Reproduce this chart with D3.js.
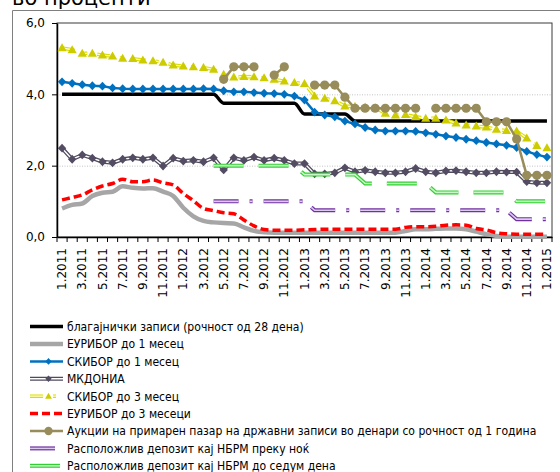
<!DOCTYPE html>
<html><head><meta charset="utf-8">
<script src="https://cdn.jsdelivr.net/npm/d3@7"></script>
<style>body{margin:0;background:#fff} svg{display:block}</style>
</head><body><svg id="c" width="560" height="472"></svg>
<script>
const categories = ["1.2011","2.2011","3.2011","4.2011","5.2011","6.2011","7.2011","8.2011","9.2011","10.2011","11.2011","12.2011",
"1.2012","2.2012","3.2012","4.2012","5.2012","6.2012","7.2012","8.2012","9.2012","10.2012","11.2012","12.2012",
"1.2013","2.2013","3.2013","4.2013","5.2013","6.2013","7.2013","8.2013","9.2013","10.2013","11.2013","12.2013",
"1.2014","2.2014","3.2014","4.2014","5.2014","6.2014","7.2014","8.2014","9.2014","10.2014","11.2014","12.2014","1.2015"];
const yTickValues = [0, 2, 4, 6];
const yTickLabels = ["0,0", "2,0", "4,0", "6,0"];
const titleText = "во проценти";
const seriesNames = [
 "благајнички записи (рочност од 28 дена)",
 "ЕУРИБОР до 1 месец",
 "СКИБОР до 1 месец",
 "МКДОНИА",
 "СКИБОР до 3 месец",
 "ЕУРИБОР до 3 месеци",
 "Аукции на примарен пазар на државни записи во денари со рочност од 1 година",
 "Расположлив депозит кај НБРМ преку ноќ",
 "Расположлив депозит кај НБРМ до седум дена"
];
const blagajnicki = [4.0,4.0,4.0,4.0,4.0,4.0,4.0,4.0,4.0,4.0,4.0,4.0,4.0,4.0,4.0,4.0,
 3.75,3.75,3.75,3.75,3.75,3.75,3.75,3.75,
 3.45,3.45,3.45,3.45,3.45,
 3.25,3.25,3.25,3.25,3.25,3.25,3.25,3.25,3.25,3.25,3.25,3.25,3.25,3.25,3.25,3.25,3.25,3.25,3.25,3.25];
const euribor1m = [0.80,0.90,0.94,1.15,1.24,1.27,1.42,1.38,1.36,1.37,1.27,1.15,0.82,0.58,0.45,0.41,0.39,0.38,0.27,0.17,0.13,
 0.12,0.12,0.12,0.12,0.12,0.12,0.12,0.12,0.12,0.12,0.12,0.12,0.12,0.17,0.22,0.22,0.23,0.24,0.24,0.22,0.15,0.08,0.03,
 0.01,0.01,0.01,0.01,0.01];
const skibor1m = [4.35,4.31,4.27,4.24,4.23,4.18,4.16,4.15,4.15,4.15,4.15,4.15,4.15,4.15,4.16,4.15,4.10,4.07,4.07,4.05,4.03,4.02,4.00,3.95,
 3.84,3.50,3.42,3.37,3.25,3.17,3.07,3.00,2.97,2.97,2.97,2.96,2.92,2.88,2.83,2.79,2.74,2.70,2.65,2.61,2.57,2.51,2.40,2.31,2.24];
const mkdonia = [2.49,2.18,2.30,2.21,2.11,2.08,2.18,2.22,2.18,2.22,1.99,2.21,2.13,2.15,2.11,2.22,1.88,2.22,2.15,2.24,2.15,2.21,2.15,2.06,
 2.06,1.77,1.77,1.80,1.94,1.83,1.87,1.83,1.80,1.80,1.83,1.92,1.83,1.80,1.85,1.86,1.83,1.80,1.80,1.83,1.82,1.82,1.55,1.52,1.52];
const skibor3m = [5.30,5.25,5.15,5.15,5.10,5.07,5.01,5.00,4.96,4.94,4.90,4.82,4.79,4.77,4.75,4.70,4.56,4.48,4.50,4.49,4.46,4.42,4.37,4.33,
 4.30,3.95,3.89,3.82,3.67,3.66,3.64,3.62,3.47,3.42,3.43,3.37,3.33,3.33,3.28,3.19,3.14,3.11,3.08,3.02,2.98,2.97,2.77,2.56,2.50];
const euribor3m = [1.04,1.11,1.18,1.32,1.43,1.50,1.62,1.55,1.55,1.60,1.52,1.46,1.22,1.02,0.80,0.74,0.68,0.65,0.48,0.31,0.21,0.19,0.19,0.19,
 0.20,0.21,0.22,0.22,0.22,0.22,0.22,0.22,0.22,0.22,0.27,0.29,0.29,0.30,0.33,0.34,0.33,0.24,0.20,0.12,0.09,0.08,0.08,0.08,0.08];
const aukcii = [null,null,null,null,null,null,null,null,null,null,null,null,null,null,null,null,
 4.42,4.77,4.77,4.77,null,4.54,4.77,null,null,4.26,4.26,4.26,3.92,3.61,3.61,3.61,3.61,3.61,3.61,3.61,null,3.61,3.61,3.61,3.61,3.61,
 3.23,3.23,3.23,2.75,1.73,1.73,1.73];
const depOvernight = [null,null,null,null,null,null,null,null,null,null,null,null,null,null,null,
 1.0,1.0,1.0,1.0,1.0,1.0,1.0,1.0,1.0,1.0,
 0.75,0.75,0.75,0.75,0.75,0.75,0.75,0.75,0.75,0.75,0.75,0.75,0.75,0.75,0.75,0.75,0.75,0.75,0.75,0.75,
 0.5,0.5,0.5,0.5];
const dep7day = [null,null,null,null,null,null,null,null,null,null,null,null,null,null,null,
 2.0,2.0,2.0,2.0,2.0,2.0,2.0,2.0,2.0,
 1.75,1.75,1.75,1.75,1.75,1.75,
 1.5,1.5,1.5,1.5,1.5,1.5,1.5,
 1.25,1.25,1.25,1.25,1.25,1.25,1.25,1.25,
 1.0,1.0,1.0,1.0];

const series = [
 {name: seriesNames[0], values: blagajnicki, color: "#000000", width: 3.5, curve: true},
 {name: seriesNames[1], values: euribor1m, color: "#a6a6a6", width: 4.5, curve: true},
 {name: seriesNames[2], values: skibor1m, color: "#0070c0", width: 2.5, marker: "diamond", mcolor: "#0070c0"},
 {name: seriesNames[3], values: mkdonia, color: "#4f4a5e", width: 4, inner: "#ffffff", innerW: 1.4, marker: "diamond", mcolor: "#544c63"},
 {name: seriesNames[4], values: skibor3m, color: "#dcdc00", width: 3.5, inner: "#ffffc8", innerW: 1.3, dash: "13,10,3,10", marker: "triangle", mcolor: "#cccc00"},
 {name: seriesNames[5], values: euribor3m, color: "#ff0000", width: 3.5, dash: "8,4", curve: true},
 {name: seriesNames[6], values: aukcii, color: "#978c5a", width: 2.5, marker: "circle", mcolor: "#978c5a"},
 {name: seriesNames[7], values: depOvernight, color: "#7030a0", width: 4, inner: "#dccbee", innerW: 1.6, dash: "25,11,3,11"},
 {name: seriesNames[8], values: dep7day, color: "#30d030", width: 4, inner: "#c8f7c8", innerW: 1.6, dash: "30,15"}
];

const svg = d3.select("#c");
const M = {l: 57, r: 552, t: 23, b: 237};
const x = d3.scaleBand().domain(categories).range([M.l, M.r]);
const y = d3.scaleLinear().domain([0, 6]).range([M.b, M.t]);
const cx = i => x(categories[i]) + x.bandwidth() / 2;

// title (cut at top) and outer frame
svg.append("text").attr("x", 12).attr("y", 5).attr("font-family", "'DejaVu Sans',sans-serif")
  .attr("font-size", 21).attr("fill", "#000").text(titleText);
svg.append("path").attr("d", `M12.5,472V10.5H560`).attr("fill", "none").attr("stroke", "#7f7f7f").attr("stroke-width", 1);

// gridlines
svg.append("g").selectAll("line").data(yTickValues.filter(v => v > 0 && v < 6)).join("line")
  .attr("x1", M.l).attr("x2", M.r).attr("y1", d => y(d) + 0.5).attr("y2", d => y(d) + 0.5)
  .attr("stroke", "#c4c4c4").attr("stroke-width", 1).attr("stroke-dasharray", "1,1.5");

// plot border
svg.append("rect").attr("x", M.l).attr("y", y(6)).attr("width", M.r - M.l).attr("height", y(0) - y(6))
  .attr("fill", "none").attr("stroke", "#3a3a3a").attr("stroke-width", 1);

// y axis
const yAxis = svg.append("g").attr("transform", `translate(${M.l},0)`)
  .call(d3.axisLeft(y).tickValues(yTickValues).tickFormat((d, i) => yTickLabels[i]).tickSize(5).tickSizeOuter(0).tickPadding(7));
yAxis.selectAll("text").attr("font-family", "'DejaVu Sans',sans-serif").attr("font-size", 12).attr("fill", "#000");
yAxis.select(".domain").attr("stroke", "#000").attr("stroke-width", 1.5);
yAxis.selectAll(".tick line").attr("stroke", "#000");

// x axis
const xAxis = svg.append("g").attr("transform", `translate(0,${M.b})`)
  .call(d3.axisBottom(x).tickSize(0).tickSizeOuter(0).tickFormat((d, i) => i % 2 === 0 ? d : ""));
xAxis.select(".domain").attr("stroke", "#000").attr("stroke-width", 1.5);
xAxis.selectAll("text").attr("font-family", "'DejaVu Sans',sans-serif").attr("font-size", 12).attr("fill", "#000")
  .attr("transform", "rotate(-90)").attr("x", -11).attr("y", 0).attr("dy", "0.35em").attr("text-anchor", "end");
svg.append("g").selectAll("line").data(categories.map(c => x(c)).concat([x.range()[1]])).join("line")
  .attr("x1", d => d).attr("x2", d => d).attr("y1", M.b).attr("y2", M.b + 5).attr("stroke", "#000").attr("stroke-width", 1);

// markers
function markerPath(type, s) {
  if (type === "diamond") return `M0,${-4.4*s}L${4.2*s},0L0,${4.4*s}L${-4.2*s},0Z`;
  if (type === "triangle") return `M0,${-4.6*s}L${4.6*s},${3.4*s}L${-4.6*s},${3.4*s}Z`;
  return null;
}
function drawStroke(g, d, s) {
  g.append("path").attr("d", d).attr("fill", "none").attr("stroke", s.color).attr("stroke-width", s.width)
    .attr("stroke-dasharray", s.dash || null).attr("stroke-linejoin", "round");
  if (s.inner) g.append("path").attr("d", d).attr("fill", "none").attr("stroke", s.inner).attr("stroke-width", s.innerW)
    .attr("stroke-dasharray", s.dash || null).attr("stroke-linejoin", "round");
}
function drawMarkers(g, pts, s, scale) {
  if (!s.marker) return;
  if (s.marker === "circle") {
    g.selectAll("circle.m").data(pts).join("circle").attr("class", "m")
      .attr("cx", d => d[0]).attr("cy", d => d[1]).attr("r", 4.6 * scale).attr("fill", s.mcolor);
  } else {
    g.selectAll("path.m").data(pts).join("path").attr("class", "m")
      .attr("transform", d => `translate(${d[0]},${d[1]})`).attr("d", markerPath(s.marker, scale)).attr("fill", s.mcolor);
  }
}

const plot = svg.append("g");
series.forEach(s => {
  const g = plot.append("g");
  const line = d3.line().defined(d => d != null).x((d, i) => cx(i)).y(d => y(d))
    .curve(s.curve ? d3.curveMonotoneX : d3.curveLinear);
  drawStroke(g, line(s.values), s);
  const pts = s.values.map((v, i) => v == null ? null : [cx(i), y(v)]).filter(p => p);
  drawMarkers(g, pts, s, 1);
});

// legend
const LG = {x0: 30, x1: 63, tx: 67, y0: 326.6, dy: 17.4};
const legend = svg.append("g");
series.forEach((s, k) => {
  const g = legend.append("g").attr("transform", `translate(0,${LG.y0 + k * LG.dy})`);
  drawStroke(g, `M${LG.x0},0H${LG.x1}`, s);
  drawMarkers(g, [[48.5, 0]], s, s.marker === "circle" ? 0.9 : 0.75);
  g.append("text").attr("class", "lt").attr("x", LG.tx).attr("y", 0).attr("dy", "0.36em")
    .attr("font-family", "'DejaVu Sans Condensed','DejaVu Sans',sans-serif").attr("font-stretch", "condensed")
    .attr("font-size", 12).attr("fill", "#000").text(s.name);
});
const lts = legend.selectAll("text.lt");
const longest = d3.max(lts.nodes(), n => n.getComputedTextLength());
lts.attr("font-size", 12 * 470 / longest);
</script></body></html>
